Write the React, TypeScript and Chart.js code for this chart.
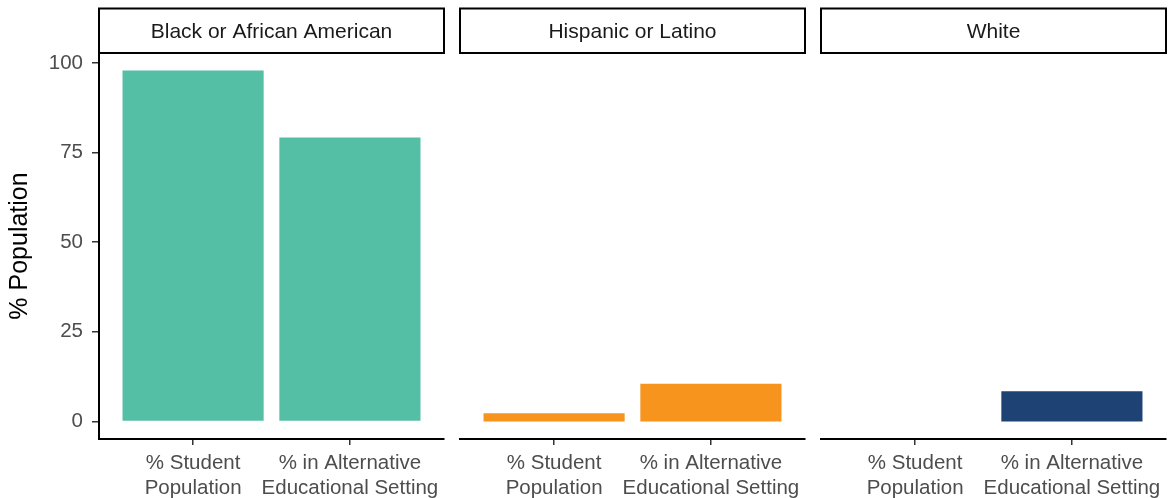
import React, { useEffect, useRef } from "react";
import { Chart, registerables } from "chart.js";

Chart.register(...registerables);

const categories: string[][] = [
  ["% Student", "Population"],
  ["% in Alternative", "Educational Setting"],
];
const groups = ["Black or African American", "Hispanic or Latino", "White"];
const blackValues = [97.9, 79.2];
const hispanicValues = [2.3, 10.5];
const whiteValues = [0, 8.4];
const groupValues = [blackValues, hispanicValues, whiteValues];
const yTicks = [0, 25, 50, 75, 100];
const groupColors = ["#55BFA6", "#F7941D", "#1D4273"];

const FONT = '"Liberation Sans", Arial, sans-serif';

type PanelProps = {
  index: number;
  left: number;
  width: number;
  padLeft: number;
  padRight: number;
  showY: boolean;
};

function Panel({ index, left, width, padLeft, padRight, showY }: PanelProps) {
  const ref = useRef<HTMLCanvasElement | null>(null);

  useEffect(() => {
    if (!ref.current) return;
    const label = groups[index];
    const stripPlugin = {
      id: "strip" + index,
      afterDraw(chart: any) {
        const { ctx, chartArea } = chart;
        ctx.save();
        const x = chartArea.left;
        const y = 8.5;
        const w = chartArea.right - chartArea.left;
        const h = chartArea.top - y;
        ctx.fillStyle = "#ffffff";
        ctx.fillRect(x, y, w, h);
        ctx.lineWidth = 2;
        ctx.strokeStyle = "#000000";
        ctx.strokeRect(x, y, w, h);
        ctx.fillStyle = "#1a1a1a";
        ctx.font = `21px ${FONT}`;
        ctx.textAlign = "center";
        ctx.textBaseline = "middle";
        ctx.fillText(label, x + w / 2, y + h / 2 + 1);
        ctx.restore();
      },
    };

    const chart = new Chart(ref.current, {
      type: "bar",
      data: {
        datasets: [
          {
            data: groupValues[index].map((v, i) => ({ x: i + 1, y: v })),
            backgroundColor: groupColors[index],
            borderWidth: 0,
            barPercentage: 0.9,
            categoryPercentage: 1,
          } as any,
        ],
      },
      options: {
        animation: false,
        responsive: false,
        layout: { padding: { top: 53, left: padLeft, right: padRight, bottom: 0 } },
        plugins: {
          legend: { display: false },
          tooltip: { enabled: false },
        },
        scales: {
          x: {
            type: "linear",
            min: 0.4,
            max: 2.6,
            offset: false,
            afterBuildTicks: (s: any) => {
              s.ticks = categories.map((_, i) => ({ value: i + 1 }));
            },
            afterFit: (s: any) => {
              s.height = 59;
              s.paddingLeft = 0;
              s.paddingRight = 0;
            },
            ticks: {
              callback: (v: any) => categories[Math.round(v) - 1],
              color: "#4d4d4d",
              font: { family: FONT, size: 20.5 },
              padding: 6,
              maxRotation: 0,
              minRotation: 0,
              autoSkip: false,
            },
            grid: {
              offset: false,
              drawOnChartArea: false,
              drawTicks: true,
              tickLength: 6,
              color: "#333333",
              lineWidth: 1.5,
            },
            border: { color: "#000000", width: 2 },
          },
          y: {
            display: showY,
            min: -4.9,
            max: 102.8,
            afterBuildTicks: (s: any) => {
              s.ticks = yTicks.map((v) => ({ value: v }));
            },
            afterFit: (s: any) => {
              s.width = showY ? 99 : 0;
              s.paddingTop = 0;
              s.paddingBottom = 0;
            },
            ticks: {
              color: "#4d4d4d",
              font: { family: FONT, size: 20.5 },
              padding: 9,
            },
            grid: {
              drawOnChartArea: false,
              drawTicks: true,
              tickLength: 7,
              color: "#333333",
              lineWidth: 1.5,
            },
            border: { color: "#000000", width: 2 },
            title: {
              display: true,
              text: "% Population",
              color: "#000000",
              font: { family: FONT, size: 25 },
              padding: { top: 5, bottom: 0 },
            },
          },
        },
      },
      plugins: [stripPlugin],
    } as any);

    return () => chart.destroy();
  }, [index, padLeft, padRight, showY]);

  return (
    <div style={{ position: "absolute", left, top: 0, width, height: 498 }}>
      <canvas ref={ref} width={width} height={498} style={{ width, height: 498, display: "block" }} />
    </div>
  );
}

export default function App() {
  return (
    <div
      style={{
        position: "fixed",
        left: 0,
        top: 0,
        width: 1171,
        height: 498,
        background: "#ffffff",
        overflow: "hidden",
      }}
    >
      <Panel index={0} left={0} width={452} padLeft={0} padRight={8} showY={true} />
      <Panel index={1} left={452} width={361} padLeft={8} padRight={8} showY={false} />
      <Panel index={2} left={813} width={358} padLeft={8} padRight={5} showY={false} />
    </div>
  );
}
